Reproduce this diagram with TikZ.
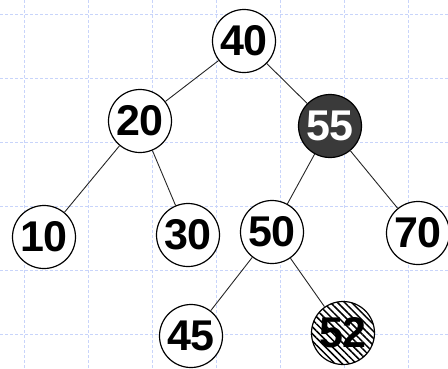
\documentclass[tikz,border=0pt]{standalone}
\usepackage{fontspec}
\newfontfamily\keyfont{Liberation Sans}
\usetikzlibrary{patterns.meta}

\definecolor{gridblue}{RGB}{200,212,250}
\definecolor{darkkey}{RGB}{58,58,58}

\begin{document}
\begin{tikzpicture}[
  x=1pt, y=-1pt,
  key/.style={draw, circle, minimum size=63pt, inner sep=0pt, line width=1.2pt,
              fill=white, font=\keyfont\bfseries\fontsize{43}{43}\selectfont},
  dark/.style={key, fill=darkkey, text=white},
  hatched/.style={key, preaction={fill=white},
              pattern={Lines[angle=-45, distance=5pt, line width=1.5pt]}},
  edge/.style={line width=0.9pt, black!85},
  grid/.style={gridblue, line width=0.8pt, dash pattern=on 3pt off 2pt},
]
\useasboundingbox (0,0) rectangle (448,368);

% === background grid ===
\foreach \gx in {24,88,...,408}
  \draw[grid] (\gx,0) -- (\gx,368);
\foreach \gy in {14,78,...,334}
  \draw[grid] (0,\gy) -- (448,\gy);

% === keys ===
\node[key] (k40) at (244,41) {40};

\node[key] (k20) at (140,121) {20};
\node[dark] (k55) at (330,126) {55};

\node[key] (k10) at (44,237) {10};
\node[key] (k30) at (188,235) {30};
\node[key] (k50) at (272,232) {50};
\node[key] (k70) at (418,233) {70};

\node[key] (k45) at (191,336) {45};
\node[hatched] (k52) at (343,333) {52};

% Edges
\draw[edge] (k40) -- (k20);
\draw[edge] (k40) -- (k55);
\draw[edge] (k20) -- (k10);
\draw[edge] (k20) -- (k30);
\draw[edge] (k55) -- (k50);
\draw[edge] (k55) -- (k70);
\draw[edge] (k50) -- (k45);
\draw[edge] (k50) -- (k52);

\end{tikzpicture}
\end{document}
